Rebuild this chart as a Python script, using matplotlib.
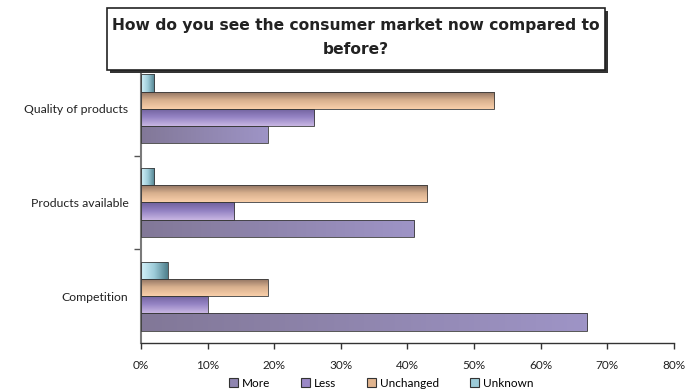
import numpy as np
import matplotlib
matplotlib.use("Agg")
import matplotlib.pyplot as plt
from matplotlib.patches import Rectangle, Patch
from matplotlib.colors import LinearSegmentedColormap

categories = ["Competition", "Products available", "Quality of products"]
series = ["More", "Less", "Unchanged", "Unknown"]
more = [67, 41, 19]
less = [10, 14, 26]
unchanged = [19, 43, 53]
unknown = [4, 2, 2]
x_ticks = [0, 10, 20, 30, 40, 50, 60, 70, 80]

plt.rcParams["font.family"] = ["Lato", "DejaVu Sans"]

# gradient stops per series: (stops, direction)
shades = {
    "More": (["#827898", "#9e94c6"], "h"),
    "Less": (["#c8b6e2", "#9584c4", "#6f609c"], "v"),
    "Unchanged": (["#f9cfaa", "#d8b08e", "#8a6e5e"], "v"),
    "Unknown": (["#d4f2fa", "#9ccbd8", "#4f7f8c"], "h"),
}
solid = {"More": "#8f85b0", "Less": "#9a88c6", "Unchanged": "#e0b48e", "Unknown": "#9ccbd8"}

fig = plt.figure(figsize=(6.98, 3.91), dpi=100)
ax = fig.add_axes([0.2020, 0.1228, 0.7636, 0.7186])

h = 0.185
y = np.arange(len(categories))
values = [more, less, unchanged, unknown]
offsets = [-1.5, -0.5, 0.5, 1.5]

for name, vals, off in zip(series, values, offsets):
    bars = ax.barh(y + off * h, vals, height=h, color=solid[name],
                   edgecolor="#3a3a3a", linewidth=0.6, zorder=3)
    stops, direction = shades[name]
    cmap = LinearSegmentedColormap.from_list(name, stops)
    for b in bars:
        x0, y0 = b.get_x(), b.get_y()
        w, hh = b.get_width(), b.get_height()
        if direction == "h":
            grad = np.linspace(0, 1, 64).reshape(1, -1)
        else:
            grad = np.linspace(0, 1, 64).reshape(-1, 1)
        im = ax.imshow(grad, cmap=cmap, aspect="auto", origin="upper",
                       extent=[x0, x0 + w, y0, y0 + hh], zorder=2.5,
                       interpolation="bilinear")
        # flip vertical gradients so the light tone sits on top
        if direction == "v":
            im.set_extent([x0, x0 + w, y0 + hh, y0])
        im.set_clip_path(b)
    for b in bars:
        b.set_facecolor("none")

ax.set_xlim(0, 80)
ax.set_ylim(-0.5, 2.5)
ax.set_xticks(x_ticks)
ax.set_xticklabels([f"{t}%" for t in x_ticks], fontsize=8.5, color="#222222")
ax.set_yticks(y)
ax.set_yticklabels(categories, fontsize=8.8, color="#222222")
ax.tick_params(axis="y", which="major", length=0, pad=9)
ax.set_yticks([0.5, 1.5], minor=True)
ax.tick_params(axis="y", which="minor", length=5, color="#555555", width=1)
ax.tick_params(axis="x", length=4, color="#333333", width=1, pad=8)

for s in ["top", "right"]:
    ax.spines[s].set_visible(False)
ax.spines["left"].set_color("#7a7a7a")
ax.spines["left"].set_linewidth(1.5)
ax.spines["bottom"].set_color("#333333")
ax.spines["bottom"].set_linewidth(1)

# title box with drop shadow
bx0, by0, bw, bh = 0.1533, 0.8210, 0.7135, 0.1585
sx, sy = 3 / 698, 3 / 391
fig.patches.append(Rectangle((bx0 + sx, by0 - sy), bw, bh, transform=fig.transFigure,
                             facecolor="#333333", edgecolor="none", zorder=10))
fig.patches.append(Rectangle((bx0, by0), bw, bh, transform=fig.transFigure,
                             facecolor="white", edgecolor="#222222", linewidth=1.2, zorder=11))
fig.text(bx0 + bw / 2, by0 + bh / 2 + 0.003,
         "How do you see the consumer market now compared to\nbefore?",
         ha="center", va="center", fontsize=11.2, fontweight="bold",
         family="DejaVu Sans",
         color="#222222", linespacing=1.75, zorder=12)

handles = [Patch(facecolor=solid[n], edgecolor="#333333", linewidth=0.8) for n in series]
fig.legend(handles, series, loc="lower center", bbox_to_anchor=(0.546, -0.022), ncol=4,
           frameon=False, fontsize=8.5, handlelength=0.8, handleheight=0.8,
           handletextpad=0.3, columnspacing=2.6)

fig.savefig("out.png", dpi=100)
